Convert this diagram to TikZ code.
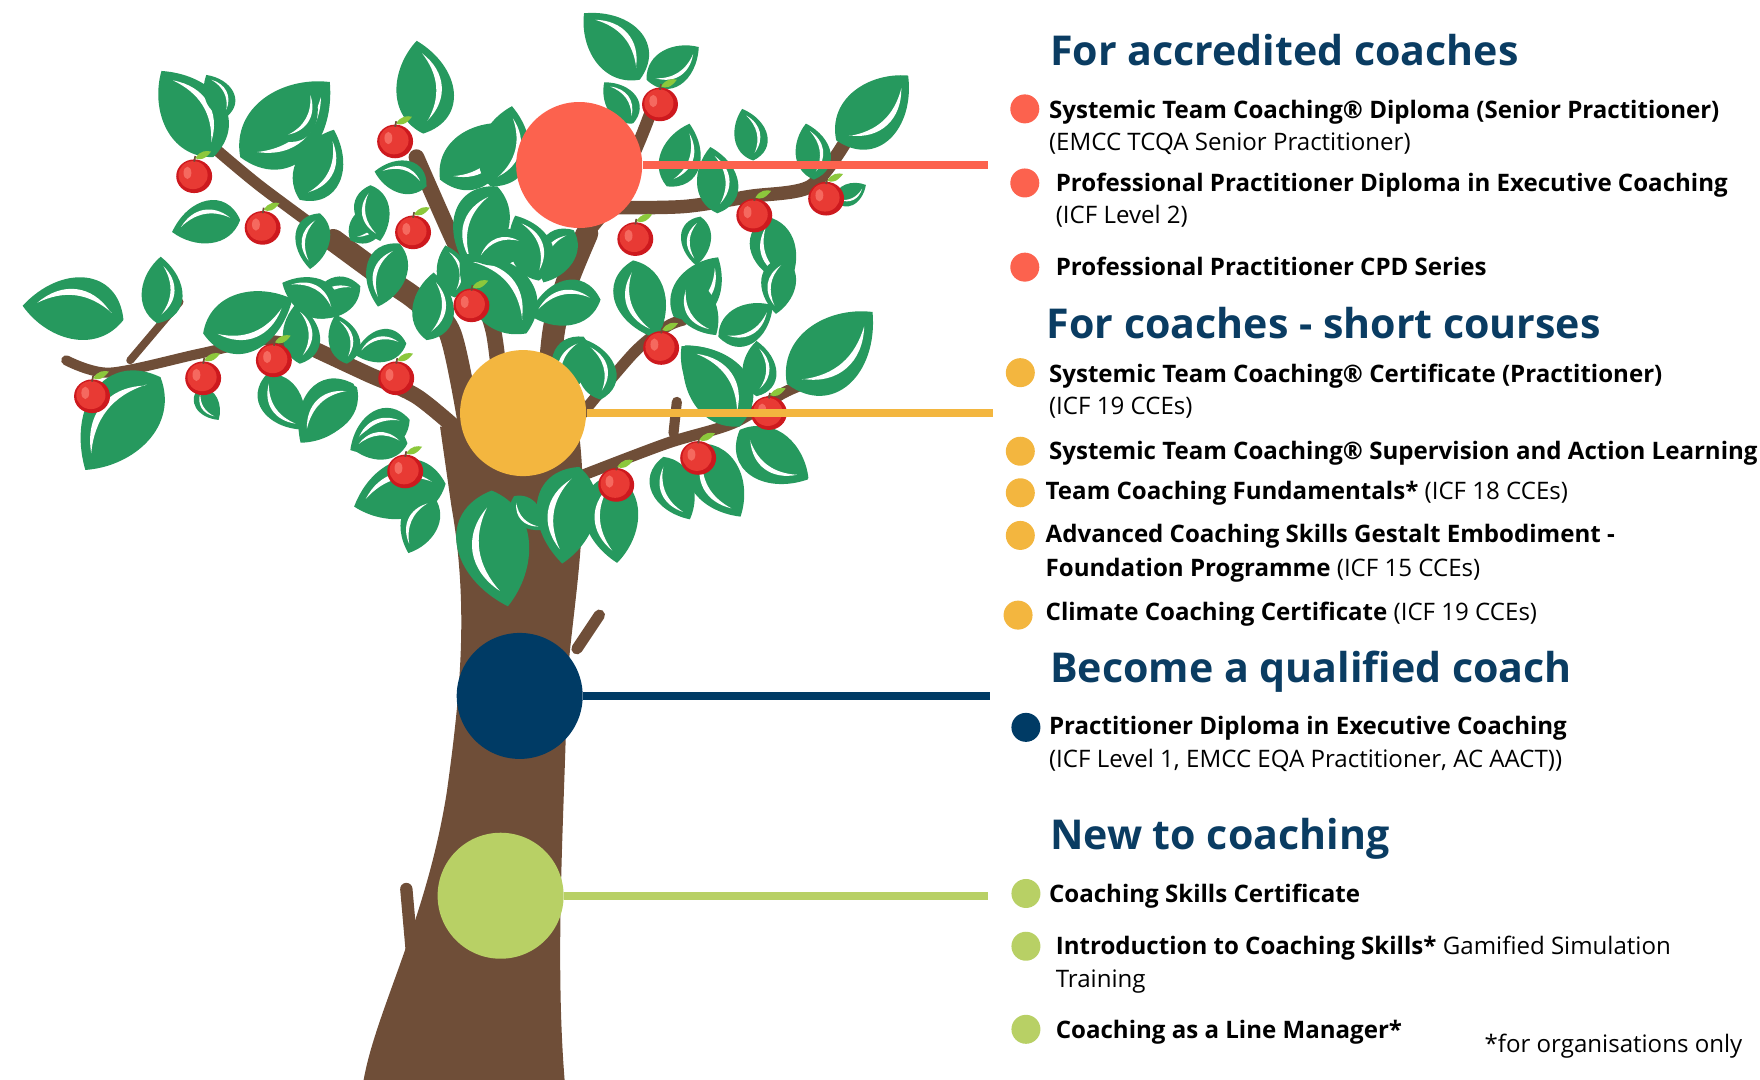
\documentclass[tikz,border=0pt]{standalone}
\usepackage{fontspec}
\setmainfont{Open Sans}
\definecolor{navy}{RGB}{10,60,98}
\definecolor{cRed}{RGB}{252,98,78}
\definecolor{cYellow}{RGB}{243,182,63}
\definecolor{cNavy}{RGB}{0,59,101}
\definecolor{cGreen}{RGB}{184,208,101}
\definecolor{bark}{RGB}{111,78,56}
\definecolor{leafgreen}{RGB}{38,153,94}
\definecolor{leaflight}{RGB}{140,200,60}
\definecolor{applered}{RGB}{232,58,52}
\definecolor{appledark}{RGB}{205,25,30}
\definecolor{applelight}{RGB}{245,105,95}

% one leaf: base x, base y, angle, length
\newcommand{\drawleaf}[4]{%
  \begin{scope}[shift={(#1,#2)},rotate=#3,scale=#4*1.12]
    \fill[leafgreen] (0,0) .. controls (0.12,0.5) and (0.68,0.46) .. (1,0)
      .. controls (0.72,-0.3) and (0.22,-0.38) .. cycle;
    \fill[white] (0.14,0.06) .. controls (0.35,0.3) and (0.65,0.29) .. (0.86,0.05)
      .. controls (0.62,0.21) and (0.38,0.22) .. cycle;
  \end{scope}}

% one apple: centre x, centre y
\newcommand{\drawapple}[2]{%
  \fill[appledark] (#1,#2) ellipse (16 and 15);
  \fill[applered] (#1-1,#2-1) ellipse (13 and 12.5);
  \fill[applelight] (#1-6,#2-3) ellipse (3.5 and 5.5);
  \draw[bark,line width=0.5pt] (#1,#2-13) -- (#1+1,#2-18);
  \fill[leaflight] (#1+1,#2-16) .. controls (#1+5,#2-23) and (#1+11,#2-23) .. (#1+15,#2-22)
    .. controls (#1+10,#2-15) and (#1+5,#2-14) .. cycle;}

\begin{document}
\begin{tikzpicture}[x=0.11224mm,y=-0.11224mm,
    head/.style={anchor=mid west,inner sep=0,text=navy,font=\fontsize{11.7}{13}\selectfont\bfseries},
    item/.style={anchor=mid west,inner sep=0,text=black,font=\fontsize{6.85}{8}\selectfont},
    dot/.style={circle,fill=#1,minimum size=2.9mm,inner sep=0},
    stage/.style={circle,fill=#1,minimum size=12.6mm,inner sep=0},
    link/.style={draw=#1,line width=2.3pt},
    branch/.style={draw=bark,line cap=round,line join=round,line width=#1*0.3193pt}]
    \useasboundingbox (0,0) rectangle (1568,962);

    % trunk and branches
    \fill[bark] (324,962) .. controls (335,900) and (380,820) .. (398,706)
        .. controls (410,620) and (418,540) .. (402,450) -- (392,380) -- (515,380)
        .. controls (528,470) and (506,560) .. (505,620)
        .. controls (503,720) and (494,850) .. (503,962) -- cycle;
    \draw[branch=11] (362,792) -- (368,860);
    \draw[branch=10] (514,578) -- (534,548);
    \draw[branch=9] plot[smooth] coordinates {(59,321) (98,332) (178,315) (238,303) (282,312)};
    \draw[branch=14] plot[smooth] coordinates {(282,312) (327,333) (371,353) (410,385)};
    \draw[branch=7] (116,321) -- (160,269);
    \draw[branch=10] plot[smooth] coordinates {(190,131) (232,166) (297,214)};
    \draw[branch=20] plot[smooth] coordinates {(297,214) (342,247) (371,267) (401,297) (420,390)};
    \draw[branch=14] plot[smooth] coordinates {(371,140) (401,208) (422,252) (440,297) (450,390)};
    \draw[branch=11] plot[smooth] coordinates {(585,86) (570,125) (546,178) (523,208)};
    \draw[branch=20] plot[smooth] coordinates {(523,208) (505,252) (493,297) (485,390)};
    \draw[branch=12] plot[smooth] coordinates {(540,185) (609,184) (668,175) (722,166) (754,125)};
    \draw[branch=10] plot[smooth] coordinates {(505,385) (564,315) (594,291) (609,285)};
    \draw[branch=10] plot[smooth] coordinates {(515,425) (594,395) (653,377) (698,350) (722,340)};
    \draw[branch=9] (603,358) -- (600,386);

    % leaves
    \foreach \x/\y/\a/\l in {190/140/121/80, 202/104/116/37, 214/140/40/93, 267/178/64/62,
        214/196/190/55, 285/190/-100/45, 312/214/49/41, 356/217/-109/53, 321/255/210/48,
        377/119/94/74, 380/166/164/43, 392/160/38/72, 110/285/172/81, 140/288/87/53,
        143/336/231/95, 181/297/21/76, 178/345/-60/30, 238/333/-57/53, 267/324/93/48,
        315/342/228/63, 309/324/103/40, 362/306/192/42, 380/303/84/54, 365/374/207/53,
        405/265/100/42, 570/71/130/69, 576/71/32/49, 564/110/125/40, 437/166/75/66,
        443/166/-107/72, 511/205/240/48, 594/166/70/53, 639/190/96/53, 671/143/102/42,
        725/160/98/45, 745/125/42/77, 683/193/-72/57, 624/193/-95/39, 743/178/25/28,
        564/232/-73/65, 600/282/53/59, 535/267/192/58, 701/342/40/89, 653/365/129/65,
        674/353/90/44, 659/383/-36/67, 535/356/104/49, 469/297/130/82, 438/437/-82/93,
        458/442/-48/36, 516/416/-100/78, 397/431/194/75, 387/443/245/49, 363/395/184/45,
        318/345/223/60, 547/422/-88/71, 591/407/-67/54, 625/395/-62/66, 663/383/-37/64,
        659/380/124/78, 300/280/150/50, 480/250/110/55, 610/250/-60/50, 640/300/30/50,
        250/125/60/50, 330/165/-80/45, 470/215/200/45, 520/300/-110/50, 700/230/-100/45}
        {\drawleaf{\x}{\y}{\a}{\l}}

    % apples
    \foreach \x/\y in {173/157, 234/203, 352/126, 368/207, 588/93, 566/213, 672/192,
        736/177, 420/272, 589/310, 82/353, 181/337, 244/321, 353/337, 685/368, 622/408,
        549/432, 361/420}
        {\drawapple{\x}{\y}}

    % stages on the tree
    \node[stage=cRed] (sRed) at (516,147) {};
    \node[stage=cYellow] (sYellow) at (466,368) {};
    \node[stage=cNavy] (sNavy) at (463,620) {};
    \node[stage=cGreen] (sGreen) at (446,798) {};
    \coordinate (eRed) at (880,147);
    \coordinate (eYellow) at (885,368);
    \coordinate (eNavy) at (882,620);
    \coordinate (eGreen) at (880,798);
    \draw[link=cRed] (sRed) -- (eRed);
    \draw[link=cYellow] (sYellow) -- (eYellow);
    \draw[link=cNavy] (sNavy) -- (eNavy);
    \draw[link=cGreen] (sGreen) -- (eGreen);

    % For accredited coaches
    \node[head] (hRed) at (935,50) {For accredited coaches};
    \node[dot=cRed] (dR1) at (913,97) {};
    \node[item] (tR1) at (934,97) {\bfseries Systemic Team Coaching® Diploma (Senior Practitioner)};
    \node[item] (tR1b) at (934,126) {(EMCC TCQA Senior Practitioner)};
    \node[dot=cRed] (dR2) at (913,163) {};
    \node[item] (tR2) at (940,162) {\bfseries Professional Practitioner Diploma in Executive Coaching};
    \node[item] (tR2b) at (940,191) {(ICF Level 2)};
    \node[dot=cRed] (dR3) at (913,238) {};
    \node[item] (tR3) at (940,237) {\bfseries Professional Practitioner CPD Series};

    % For coaches - short courses
    \node[head] (hYellow) at (932,293) {For coaches - short courses};
    \node[dot=cYellow] (dY1) at (909,332) {};
    \node[item] (tY1) at (934,332) {\bfseries Systemic Team Coaching® Certificate (Practitioner)};
    \node[item] (tY1b) at (934,361) {(ICF 19 CCEs)};
    \node[dot=cYellow] (dY2) at (909,402) {};
    \node[item] (tY2) at (934,401) {\bfseries Systemic Team Coaching® Supervision and Action Learning};
    \node[dot=cYellow] (dY3) at (909,439) {};
    \node[item] (tY3) at (931,437) {\textbf{Team Coaching Fundamentals*} (ICF 18 CCEs)};
    \node[dot=cYellow] (dY4) at (909,477) {};
    \node[item] (tY4) at (931,475) {\bfseries Advanced Coaching Skills Gestalt Embodiment -};
    \node[item] (tY4b) at (931,505) {\textbf{Foundation Programme} (ICF 15 CCEs)};
    \node[dot=cYellow] (dY5) at (907,548) {};
    \node[item] (tY5) at (931,544) {\textbf{Climate Coaching Certificate} (ICF 19 CCEs)};

    % Become a qualified coach
    \node[head] (hNavy) at (935,600) {Become a qualified coach};
    \node[dot=cNavy] (dN1) at (914,648) {};
    \node[item] (tN1) at (934,646) {\bfseries Practitioner Diploma in Executive Coaching};
    \node[item] (tN1b) at (934,675) {(ICF Level 1, EMCC EQA Practitioner, AC AACT))};

    % New to coaching
    \node[head] (hGreen) at (935,748) {New to coaching};
    \node[dot=cGreen] (dG1) at (914,796) {};
    \node[item] (tG1) at (934,796) {\bfseries Coaching Skills Certificate};
    \node[dot=cGreen] (dG2) at (914,843) {};
    \node[item] (tG2) at (940,842) {\textbf{Introduction to Coaching Skills*} Gamified Simulation};
    \node[item] (tG2b) at (940,871) {Training};
    \node[dot=cGreen] (dG3) at (914,917) {};
    \node[item] (tG3) at (940,917) {\bfseries Coaching as a Line Manager*};
    \node[item] (note) at (1322,929) {*for organisations only};
\end{tikzpicture}
\end{document}
